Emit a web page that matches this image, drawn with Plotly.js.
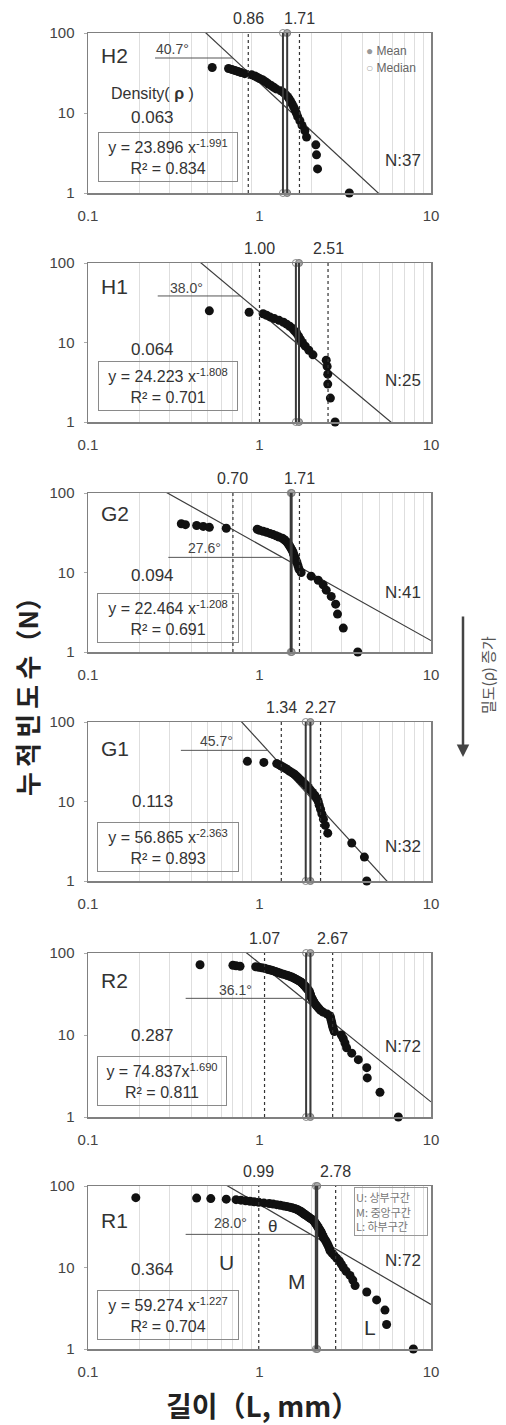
<!DOCTYPE html>
<html><head><meta charset="utf-8">
<script src="https://cdn.plot.ly/plotly-3.0.1.min.js"></script>
<style>body{margin:0;background:#fff}#chart{width:506px;height:1425px}</style>
</head><body><div id="chart"></div>
<script>
// ---------- data ----------
const panels = ['H2','H1','G2','G1','R2','R1'];
const counts = [37,25,41,32,72,72];
const densities = ['0.063','0.064','0.094','0.113','0.287','0.364'];
const coefA = [23.896, 24.223, 22.464, 56.865, 74.837, 59.274];
const coefB = [-1.991, -1.808, -1.208, -2.363, -1.690, -1.227];
const eqLabels = ['y = 23.896 x<sup>-1.991</sup>','y = 24.223 x<sup>-1.808</sup>','y = 22.464 x<sup>-1.208</sup>','y = 56.865 x<sup>-2.363</sup>','y = 74.837x<sup>1.690</sup>','y = 59.274 x<sup>-1.227</sup>'];
const r2Labels = ['0.834','0.701','0.691','0.893','0.811','0.704'];
const lowerLen = [0.86,1.00,0.70,1.34,1.07,0.99];
const upperLen = [1.71,2.51,1.71,2.27,2.67,2.78];
const medianLen = [1.37,1.63,1.52,1.86,1.87,2.13];
const meanLen = [1.45,1.70,1.54,1.98,1.98,2.17];
const angleLabels = ['40.7°','38.0°','27.6°','45.7°','36.1°','28.0°'];
const xTicks = [0.1,1,10], xTickText = ['0.1','1','10'];
const yTicks = [1,10,100], yTickText = ['1','10','100'];
const minorX = [0.2,0.3,0.4,0.5,0.6,0.7,0.8,0.9,2,3,4,5,6,7,8,9];

// lengths (mm), ascending; cumulative frequency = N .. 1
const lenH2 = [0.53,0.66,0.69,0.72,0.75,0.78,0.82,0.90,0.94,0.97,1.00,1.04,1.07,1.10,1.13,1.17,1.21,1.25,1.33,1.38,1.42,1.46,1.49,1.52,1.55,1.58,1.61,1.64,1.67,1.72,1.77,1.84,1.88,2.13,2.15,2.18,3.34];
const lenH1 = [0.51,0.87,1.05,1.10,1.15,1.22,1.30,1.38,1.44,1.50,1.56,1.60,1.65,1.69,1.73,1.78,1.85,1.94,2.05,2.45,2.48,2.50,2.50,2.59,2.76];
const lenG2 = [0.35,0.37,0.43,0.47,0.51,0.64,0.97,1.00,1.05,1.10,1.15,1.20,1.25,1.30,1.36,1.39,1.42,1.45,1.47,1.49,1.51,1.53,1.55,1.57,1.58,1.60,1.62,1.64,1.66,1.68,1.70,1.75,2.00,2.20,2.35,2.45,2.62,2.78,2.85,3.08,3.74];
const lenG1 = [0.85,1.06,1.26,1.30,1.34,1.38,1.42,1.46,1.50,1.55,1.60,1.64,1.68,1.72,1.77,1.82,1.87,1.93,1.98,2.04,2.10,2.16,2.20,2.23,2.27,2.31,2.36,2.42,2.50,3.45,4.09,4.22];
const lenR2 = [0.45,0.70,0.73,0.77,0.95,0.99,1.03,1.07,1.10,1.13,1.16,1.19,1.22,1.25,1.28,1.31,1.34,1.38,1.42,1.46,1.50,1.54,1.57,1.60,1.63,1.66,1.69,1.72,1.75,1.77,1.79,1.81,1.83,1.85,1.87,1.89,1.91,1.93,1.95,1.96,1.97,1.98,1.99,2.00,2.02,2.04,2.06,2.08,2.11,2.14,2.18,2.22,2.27,2.35,2.48,2.58,2.60,2.62,2.64,2.66,2.69,2.73,3.00,3.08,3.15,3.22,3.45,3.77,4.22,4.25,5.04,6.45];
const lenR1 = [0.19,0.43,0.52,0.64,0.73,0.78,0.83,0.88,0.93,0.99,1.06,1.14,1.20,1.26,1.32,1.38,1.44,1.50,1.55,1.60,1.64,1.67,1.70,1.73,1.76,1.78,1.80,1.83,1.86,1.89,1.92,1.95,1.98,2.02,2.06,2.08,2.10,2.12,2.14,2.16,2.18,2.20,2.22,2.25,2.27,2.29,2.31,2.33,2.35,2.37,2.41,2.44,2.47,2.50,2.53,2.56,2.58,2.65,2.73,2.82,2.92,3.00,3.08,3.20,3.37,3.50,3.61,4.22,4.82,5.39,5.51,7.89];
const lengths = [lenH2,lenH1,lenG2,lenG1,lenR2,lenR1];

// ---------- placement (layout only) ----------
const W = 506, H = 1425, PL = 88, PR = 431;
const boxes = [[33,193],[263,422],[493,652],[722,881],[953,1117],[1186,1349]];
const namePos = [0.8625,0.851,0.868,0.836,0.835,0.791];
const densPos = [0.475,0.453,0.484,0.499,0.494,0.485];
const eqPos = [[0.232,0.225],[0.232,0.226],[0.232,0.214],[0.232,0.214],[0.217,0.22],[0.232,0.206]];
const eqW = [134,134,136,136,124,136];
const nPos = [0.206,0.264,0.373,0.216,0.429,0.546];
const angLine = [[0.246,48.7],[0.255,38.5],[0.294,15.5],[0.348,44],[0.371,28],[0.371,25.5]];
const angText = [[0.313,63],[0.376,48.5],[0.475,20.5],[0.563,57.7],[0.72,35.4],[0.673,35.2]];

const FONT = 'Liberation Sans, Arial, sans-serif';
const KFONT = 'Noto Sans CJK KR, sans-serif';
const traces = [], shapes = [], annotations = [];
const layout = {
  width: W, height: H, margin: {l:0,r:0,t:0,b:0}, showlegend: false,
  paper_bgcolor: '#fff', plot_bgcolor: '#fff',
  font: {family: FONT, color: '#333'}
};
function ann(o) { annotations.push(Object.assign({showarrow: false, xanchor: 'center', yanchor: 'middle'}, o)); }

panels.forEach((name, i) => {
  const k = i === 0 ? '' : String(i + 1);
  const xa = 'x' + k, ya = 'y' + k;
  const [top, bot] = boxes[i];
  layout['xaxis' + k] = {
    type: 'log', range: [-1, 1], domain: [PL / W, PR / W], anchor: ya,
    showline: true, mirror: true, linecolor: '#808080', linewidth: 1.5,
    showgrid: false, zeroline: false, tickmode: 'array', tickvals: xTicks, ticktext: xTickText,
    tickfont: {size: 15, color: '#444', family: FONT}, ticks: '', ticklabelstandoff: 8,
    minor: {tickmode: 'array', tickvals: minorX, showgrid: true, gridcolor: '#dedede', gridwidth: 1, ticks: ''}
  };
  layout['yaxis' + k] = {
    type: 'log', range: [0, 2], domain: [1 - bot / H, 1 - top / H], anchor: xa,
    showline: true, mirror: true, linecolor: '#808080', linewidth: 1.5,
    showgrid: false, zeroline: false, tickmode: 'array', tickvals: yTicks, ticktext: yTickText,
    tickfont: {size: 15, color: '#444', family: FONT}, ticks: 'outside', ticklen: 3, tickcolor: '#aaa',
    ticklabelstandoff: 6
  };

  const a = coefA[i], b = coefB[i];
  const fx = [0.1, 10];
  traces.push({x: fx, y: fx.map(v => a * Math.pow(v, b)), xaxis: xa, yaxis: ya, mode: 'lines',
    line: {color: '#3c3c3c', width: 1.2}, hoverinfo: 'skip'});

  [lowerLen[i], upperLen[i]].forEach(v => {
    shapes.push({type: 'line', xref: xa, yref: ya + ' domain', x0: v, x1: v, y0: 0, y1: 1,
      line: {color: '#333', width: 1.2, dash: 'dot'}});
    ann({xref: xa, yref: ya + ' domain', x: Math.log10(v), y: 1, yanchor: 'bottom', yshift: 4,
      text: v.toFixed(2), font: {size: 16, color: '#333', family: FONT}});
  });
  [medianLen[i], meanLen[i]].forEach(v => {
    shapes.push({type: 'line', xref: xa, yref: ya + ' domain', x0: v, x1: v, y0: 0, y1: 1,
      line: {color: '#3a3a3a', width: 2}});
  });
  const yl = angLine[i][1];
  shapes.push({type: 'line', xref: xa, yref: ya, x0: angLine[i][0], x1: Math.pow(yl / a, 1 / b), y0: yl, y1: yl,
    line: {color: '#555', width: 1}});
  ann({xref: xa, yref: ya, x: Math.log10(angText[i][0]), y: Math.log10(angText[i][1]),
    text: angleLabels[i], font: {size: 14, color: '#444', family: FONT}});

  const L = lengths[i];
  traces.push({x: L, y: L.map((v, j) => counts[i] - j), xaxis: xa, yaxis: ya, mode: 'markers',
    marker: {size: 9, color: '#111'}, cliponaxis: false, hoverinfo: 'x+y'});

  traces.push({x: [medianLen[i], medianLen[i]], y: [1, 100], xaxis: xa, yaxis: ya, mode: 'markers',
    marker: {size: 7, color: '#fff', line: {color: '#888', width: 1}}, cliponaxis: false});
  traces.push({x: [meanLen[i], meanLen[i]], y: [1, 100], xaxis: xa, yaxis: ya, mode: 'markers',
    marker: {size: 7, color: '#aaa', line: {color: '#777', width: 1}}, cliponaxis: false});

  const dx = xa + ' domain', dy = ya + ' domain';
  ann({xref: dx, yref: dy, x: 0.0787, y: namePos[i], text: name, font: {size: 21, color: '#333', family: FONT}});
  ann({xref: dx, yref: dy, x: 0.1895, y: densPos[i], text: densities[i], font: {size: 17, color: '#333', family: FONT}});
  ann({xref: dx, yref: dy, x: eqPos[i][0], y: eqPos[i][1],
    text: eqLabels[i] + '<br>R² = ' + r2Labels[i], align: 'center',
    width: eqW[i], height: 44, bordercolor: '#8a8a8a', borderwidth: 1, borderpad: 2,
    font: {size: 16, color: '#333', family: FONT}});
  ann({xref: dx, yref: dy, x: 0.918, y: nPos[i], text: 'N:' + counts[i], font: {size: 17, color: '#333', family: FONT}});
});

// H2 legend (Mean / Median)
ann({xref: 'paper', yref: 'paper', x: 364 / W, y: 1 - 51 / H, xanchor: 'left',
  text: '<span style="color:#999">●</span> Mean', font: {size: 12, color: '#666', family: FONT}});
ann({xref: 'paper', yref: 'paper', x: 364 / W, y: 1 - 68 / H, xanchor: 'left',
  text: '<span style="color:#aaa">○</span> Median', font: {size: 12, color: '#666', family: FONT}});
ann({xref: 'x domain', yref: 'y domain', x: 0.1895, y: 0.619, text: 'Density( <b>ρ</b> )',
  font: {size: 16, color: '#333', family: FONT}});

// R1 extras
ann({xref: 'x6', yref: 'y6', x: Math.log10(1.19), y: Math.log10(31.7), text: 'θ', font: {size: 17, color: '#333', family: FONT}});
ann({xref: 'x6', yref: 'y6', x: Math.log10(0.643), y: Math.log10(11.4), text: 'U', font: {size: 21, color: '#333', family: FONT}});
ann({xref: 'x6', yref: 'y6', x: Math.log10(1.65), y: Math.log10(6.7), text: 'M', font: {size: 21, color: '#333', family: FONT}});
ann({xref: 'x6', yref: 'y6', x: Math.log10(4.41), y: Math.log10(1.82), text: 'L', font: {size: 21, color: '#333', family: FONT}});
ann({xref: 'paper', yref: 'paper', x: 390.5 / W, y: 1 - 1211.5 / H,
  text: 'U: 상부구간<br>M: 중앙구간<br>L: 하부구간', align: 'left',
  width: 70, height: 45, bordercolor: '#999', borderwidth: 1, borderpad: 1,
  font: {size: 11, color: '#777', family: KFONT}});

// axis titles
ann({xref: 'paper', yref: 'paper', x: 27 / W, y: 1 - 690 / H, textangle: -90,
  text: '<b>누\u2009적\u2009빈\u2009도\u2009수（N）</b>', font: {size: 26, color: '#222', family: KFONT}});
ann({xref: 'paper', yref: 'paper', x: 262 / W, y: 1 - 1405 / H,
  text: '<b>길이（L, mm）</b>', font: {size: 28, color: '#222', family: KFONT}});

// density arrow
annotations.push({xref: 'paper', yref: 'paper', x: 463 / W, y: 1 - 757 / H, ax: 0, ay: -142,
  text: '', showarrow: true, arrowhead: 2, arrowsize: 1, arrowwidth: 2.5, arrowcolor: '#444'});
ann({xref: 'paper', yref: 'paper', x: 488 / W, y: 1 - 675 / H, textangle: -90,
  text: '밀도(ρ) 증가', font: {size: 15, color: '#555', family: KFONT}});

layout.shapes = shapes;
layout.annotations = annotations;
Plotly.newPlot('chart', traces, layout, {staticPlot: true});
</script></body></html>
